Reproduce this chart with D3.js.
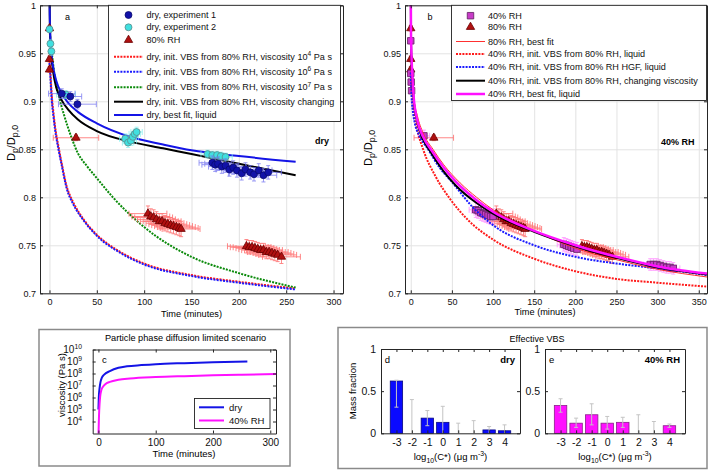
<!DOCTYPE html>
<html>
<head>
<meta charset="utf-8">
<script src="https://cdn.jsdelivr.net/npm/d3@7"></script>
<style>
html,body{margin:0;padding:0;background:#fff;}
svg{display:block;}
</style>
</head>
<body>
<svg id="chart" width="709" height="470"></svg>
<script>
// ================= DATA =================
const timeTicksA = [0, 50, 100, 150, 200, 250, 300];
const timeTicksB = [0, 50, 100, 150, 200, 250, 300, 350];
const ratioTicks = [0.7, 0.75, 0.8, 0.85, 0.9, 0.95, 1];

// measured points: [time (min), Dp/Dp0, time error, ratio error]
const dryExp1 = [
  [13, 0.908, 14, 0.005], [22, 0.905, 12, 0.005], [29.5, 0.897, 20, 0.005],
  [172, 0.836, 14, 0.007], [175, 0.834, 14, 0.007], [178, 0.835, 14, 0.007], [182, 0.832, 14, 0.007],
  [186, 0.833, 14, 0.007], [190, 0.829, 14, 0.007], [194, 0.831, 14, 0.007], [198, 0.828, 14, 0.007],
  [203, 0.825, 14, 0.007], [207, 0.829, 14, 0.007], [212, 0.826, 14, 0.007], [216, 0.824, 14, 0.007],
  [221, 0.828, 14, 0.007], [226, 0.823, 14, 0.007], [231, 0.826, 14, 0.007]
];
const dryExp2 = [
  [0, 0.975, 0, 0.003], [1, 0.960, 1, 0.004], [2, 0.952, 1, 0.004], [17.5, 0.907, 10, 0.004],
  [80, 0.861, 6, 0.005], [83, 0.857, 6, 0.005], [86, 0.859, 6, 0.005], [88, 0.863, 6, 0.005],
  [90, 0.866, 6, 0.005], [92, 0.868, 6, 0.005],
  [167, 0.845, 7, 0.004], [172, 0.844, 7, 0.004], [177, 0.844, 7, 0.004], [181, 0.843, 7, 0.004], [186, 0.842, 7, 0.004]
];
const rh80Points = [
  [0, 0.976, 0, 0.003], [0, 0.944, 0, 0.003], [0, 0.933, 0, 0.003], [28, 0.862, 24, 0.003],
  [104, 0.783, 20, 0.008], [107, 0.780, 20, 0.008], [110, 0.779, 20, 0.008], [113, 0.777, 20, 0.008],
  [116, 0.775, 20, 0.008], [119, 0.775, 20, 0.008], [122, 0.773, 20, 0.008], [125, 0.772, 20, 0.008],
  [128, 0.771, 20, 0.008], [131, 0.770, 20, 0.008], [134, 0.769, 20, 0.008], [137, 0.768, 20, 0.008],
  [139, 0.767, 20, 0.008],
  [208, 0.749, 20, 0.007], [211, 0.748, 20, 0.007], [214, 0.748, 20, 0.007], [217, 0.747, 20, 0.007],
  [220, 0.746, 20, 0.007], [223, 0.745, 20, 0.007], [226, 0.745, 20, 0.007], [229, 0.743, 20, 0.007],
  [232, 0.743, 20, 0.007], [235, 0.742, 20, 0.007], [238, 0.741, 20, 0.007], [241, 0.740, 20, 0.007],
  [245, 0.738, 20, 0.007]
];
const rh40Points = [
  [0, 0.963, 0, 0.003], [0, 0.929, 0, 0.003], [0.5, 0.920, 0, 0.003], [1, 0.911, 0, 0.003],
  [16, 0.864, 7, 0.006],
  [79, 0.787, 8, 0.008], [82, 0.786, 8, 0.008], [85, 0.784, 8, 0.008], [88, 0.783, 8, 0.008],
  [91, 0.782, 8, 0.008], [94, 0.781, 8, 0.008], [97, 0.780, 8, 0.008], [100, 0.780, 8, 0.008],
  [186, 0.751, 8, 0.007], [189, 0.750, 8, 0.007], [192, 0.749, 8, 0.007], [195, 0.748, 8, 0.007],
  [198, 0.747, 8, 0.007], [202, 0.746, 8, 0.007],
  [291, 0.730, 8, 0.006], [295, 0.730, 8, 0.006], [299, 0.730, 8, 0.006], [303, 0.729, 8, 0.006],
  [307, 0.728, 8, 0.006], [311, 0.727, 8, 0.006], [315, 0.727, 8, 0.006], [319, 0.726, 8, 0.006]
];

// model curves, panel a: [time, Dp/Dp0]
const dryVisc4 = [[0,0.945],[1,0.93],[2.5,0.905],[4,0.89],[6,0.873],[9.5,0.853],[13,0.835],[18,0.812],[25,0.795],[36,0.777],[50,0.761],[75,0.743],[100,0.731],[150,0.719],[200,0.712],[260,0.705]];
const dryVisc6 = [[0,0.94],[1,0.925],[2.5,0.90],[4,0.886],[6,0.870],[9.5,0.850],[13,0.833],[18,0.810],[25,0.793],[36,0.776],[50,0.760],[75,0.742],[100,0.730],[150,0.718],[200,0.711],[260,0.704]];
const dryVisc7 = [[0,0.975],[2,0.955],[5,0.93],[10,0.905],[15,0.887],[23,0.863],[30,0.846],[40,0.832],[50,0.82],[67,0.80],[100,0.769],[150,0.738],[200,0.721],[260,0.706]];
const dryViscChanging = [[0,1.02],[0.3,0.99],[1,0.962],[2,0.947],[4,0.93],[7,0.915],[13,0.901],[20,0.891],[30,0.881],[50,0.869],[85,0.858],[120,0.851],[150,0.845],[200,0.835],[260,0.823]];
const dryBestFit = [[0,1.02],[0.3,0.99],[1,0.965],[2,0.95],[4,0.935],[7,0.922],[13,0.908],[20,0.898],[30,0.889],[50,0.877],[85,0.863],[120,0.855],[150,0.849],[200,0.843],[260,0.837]];

// model curves, panel b
const rh80BestFit = [[0,1.02],[0.5,0.96],[1.5,0.93],[3.5,0.905],[8,0.885],[15,0.867],[27,0.85],[40,0.834],[60,0.815],[80,0.80],[100,0.787],[150,0.765],[200,0.747],[250,0.735],[300,0.725],[360,0.717]];
const rh40Liquid = [[0,0.93],[2,0.90],[7.5,0.872],[15,0.85],[30,0.822],[48,0.798],[70,0.776],[100,0.756],[150,0.736],[200,0.723],[250,0.715],[300,0.711],[360,0.707]];
const rh40HGF = [[0,0.93],[1,0.905],[2.5,0.89],[5,0.877],[10,0.865],[21,0.85],[35,0.831],[50,0.816],[75,0.79],[100,0.771],[150,0.75],[200,0.738],[250,0.731],[300,0.726],[360,0.719]];
const rh40Changing = [[0,1.02],[0.3,0.965],[1,0.94],[2,0.92],[3.5,0.902],[8,0.878],[15,0.86],[22,0.85],[40,0.827],[55,0.812],[80,0.794],[100,0.783],[150,0.764],[200,0.749],[250,0.737],[300,0.727],[360,0.7195]];
const rh40BestFit = [[0,1.02],[0.3,0.97],[1,0.945],[2,0.925],[3.5,0.905],[8,0.88],[15,0.863],[26,0.848],[40,0.831],[55,0.816],[80,0.797],[100,0.785],[150,0.765],[200,0.75],[250,0.738],[300,0.728],[360,0.7205]];

// panel c: viscosity (Pa s) vs time
const viscTimeTicks = [0, 100, 200, 300];
const viscTicks = [1e4, 1e5, 1e6, 1e7, 1e8, 1e9, 1e10];
const viscExponents = ["4", "5", "6", "7", "8", "9", "10"];
const viscDry = [[0,1e5],[0.5,6e5],[1,2e6],[2,6e6],[3.5,1.8e7],[6,4.5e7],[10,8e7],[20,1.6e8],[35,3e8],[50,4e8],[75,5e8],[100,6e8],[150,7.3e8],[200,8.5e8],[260,9.8e8]];
const visc40 = [[0,5e2],[1,3e4],[2,3e5],[3,1.2e6],[5,4e6],[8,8e6],[12,1.3e7],[20,2e7],[35,3e7],[55,3.8e7],[100,5e7],[150,6e7],[200,7e7],[250,8e7],[310,9e7]];

// panels d, e: effective VBS
const logCstar = [-3, -2, -1, 0, 1, 2, 3, 4];
const massTicks = [0, 0.5, 1];
const fracDry = [0.62, 0, 0.18, 0.13, 0, 0, 0.04, 0.03];
const errLowDry = [0.31, 0, 0.09, 0, 0, 0, 0, 0];
const errHighDry = [0.63, 0.40, 0.27, 0.32, 0.12, 0.15, 0.08, 0.10];
const frac40 = [0.33, 0.12, 0.22, 0.12, 0.13, 0, 0, 0.09];
const errLow40 = [0.25, 0.07, 0.10, 0.05, 0.07, 0, 0, 0.07];
const errHigh40 = [0.41, 0.18, 0.35, 0.20, 0.19, 0.22, 0.14, 0.11];

// ================= DRAWING =================
const FONT = '"Liberation Sans", Arial, Helvetica, sans-serif';
const AX = "#262626";
const svg = d3.select("#chart").attr("font-family", FONT);

function styleAxis(sel, fs) {
  sel.attr("font-family", FONT).attr("font-size", fs);
  sel.select(".domain").attr("stroke", AX);
  sel.selectAll(".tick line").attr("stroke", AX);
  sel.selectAll(".tick text").attr("fill", "#111");
}
function drawGrid(g, x, y, xt, yt) {
  const [xa, xb] = x.range(), [yb, ya] = y.range();
  g.append("g").attr("transform", `translate(0,${yb})`)
    .call(d3.axisBottom(x).tickValues(xt).tickSize(-(yb - ya)).tickFormat(""))
    .call(s => { s.select(".domain").remove(); s.selectAll("line").attr("stroke", "#e3e3e3"); });
  g.append("g").attr("transform", `translate(${xa},0)`)
    .call(d3.axisLeft(y).tickValues(yt).tickSize(-(xb - xa)).tickFormat(""))
    .call(s => { s.select(".domain").remove(); s.selectAll("line").attr("stroke", "#e3e3e3"); });
}
function drawAxes(g, x, y, o) {
  const [xa, xb] = x.range(), [yb, ya] = y.range();
  const tl = o.tickLen || 3, fs = o.fs || 9;
  g.append("g").attr("transform", `translate(0,${yb})`)
    .call(d3.axisBottom(x).tickValues(o.xTicks).tickSizeInner(-tl).tickSizeOuter(0).tickPadding(o.xPad || 5).tickFormat(o.xFmt || (d => d)))
    .call(s => styleAxis(s, fs));
  g.append("g").attr("transform", `translate(0,${ya})`)
    .call(d3.axisTop(x).tickValues(o.xTicks).tickSizeInner(-tl).tickSizeOuter(0).tickFormat(""))
    .call(s => styleAxis(s, fs));
  g.append("g").attr("transform", `translate(${xa},0)`)
    .call(d3.axisLeft(y).tickValues(o.yTicks).tickSizeInner(-tl).tickSizeOuter(0).tickPadding(o.yPad || 4).tickFormat(o.yFmt || (d => d)))
    .call(s => styleAxis(s, fs));
  g.append("g").attr("transform", `translate(${xb},0)`)
    .call(d3.axisRight(y).tickValues(o.yTicks).tickSizeInner(-tl).tickSizeOuter(0).tickFormat(""))
    .call(s => styleAxis(s, fs));
}
let clipId = 0;
function makeClip(x, y) {
  const id = "clip" + (clipId++);
  const [xa, xb] = x.range(), [yb, ya] = y.range();
  svg.append("clipPath").attr("id", id).append("rect")
    .attr("x", xa).attr("y", ya).attr("width", xb - xa).attr("height", yb - ya);
  return id;
}
function drawCurve(g, x, y, data, st) {
  const line = d3.line().x(d => x(d[0])).y(d => y(d[1])).curve(d3.curveMonotoneX);
  g.append("path").datum(data).attr("d", line).attr("fill", "none")
    .attr("stroke", st.color).attr("stroke-width", st.width)
    .attr("stroke-dasharray", st.dash || null);
}
function drawPoints(g, x, y, pts, o) {
  const eb = g.append("g").attr("stroke", o.errColor).attr("stroke-width", 0.9).attr("fill", "none").attr("opacity", 0.8);
  pts.forEach(p => {
    const [t, v, xe, ye] = p, cx = x(t), cy = y(v);
    if (xe > 0) {
      eb.append("line").attr("x1", x(t - xe)).attr("x2", x(t + xe)).attr("y1", cy).attr("y2", cy);
      [t - xe, t + xe].forEach(e => eb.append("line").attr("x1", x(e)).attr("x2", x(e)).attr("y1", cy - 3).attr("y2", cy + 3));
    }
    if (ye > 0) {
      eb.append("line").attr("x1", cx).attr("x2", cx).attr("y1", y(v - ye)).attr("y2", y(v + ye));
      [v - ye, v + ye].forEach(e => eb.append("line").attr("x1", cx - 2).attr("x2", cx + 2).attr("y1", y(e)).attr("y2", y(e)));
    }
  });
  g.append("g").selectAll("path").data(pts).join("path")
    .attr("transform", p => `translate(${x(p[0])},${y(p[1])})`)
    .attr("d", d3.symbol().type(o.type).size(o.size))
    .attr("fill", o.fill).attr("stroke", o.stroke).attr("stroke-width", 0.8);
}
function richText(sel, parts, fs, subScale) {
  let shift = 0;
  const sc = subScale || 0.72;
  parts.forEach(p => {
    const t = sel.append("tspan").text(p.t);
    const target = p.sup ? -fs * 0.4 : (p.sub ? fs * 0.3 : 0);
    if (target !== shift) { t.attr("dy", target - shift); shift = target; }
    if (p.sup || p.sub) t.attr("font-size", fs * sc);
  });
}
function drawLegend(g, box, rows, lx0, lx1, tx, fs) {
  g.append("rect").attr("x", box[0]).attr("y", box[1]).attr("width", box[2] - box[0]).attr("height", box[3] - box[1])
    .attr("fill", "#fff").attr("stroke", "#222").attr("stroke-width", 0.9);
  rows.forEach(r => {
    if (r.line) g.append("line").attr("x1", lx0).attr("x2", lx1).attr("y1", r.y).attr("y2", r.y)
      .attr("stroke", r.line.color).attr("stroke-width", r.line.width).attr("stroke-dasharray", r.line.dash || null);
    if (r.marker) g.append("path").attr("transform", `translate(${(lx0 + lx1) / 2},${r.y})`)
      .attr("d", d3.symbol().type(r.marker.type).size(r.marker.size))
      .attr("fill", r.marker.fill).attr("stroke", r.marker.stroke).attr("stroke-width", 0.8);
    const t = g.append("text").attr("x", tx).attr("y", r.y + fs * 0.35).attr("font-size", fs).attr("fill", "#111");
    richText(t, r.parts, fs);
  });
}

// styles
const S = {
  red4: { color: "#ff1a1a", width: 2, dash: "2,1.2" },
  blue6: { color: "#1a1aff", width: 2, dash: "2,1.2" },
  green7: { color: "#0a8a0a", width: 2, dash: "2,1.2" },
  black: { color: "#000", width: 2 },
  blueFit: { color: "#1414e6", width: 2 },
  redThin: { color: "#ff3030", width: 1 },
  magFit: { color: "#ff10ff", width: 2.5 }
};
const M = {
  exp1: { type: d3.symbolCircle, size: 38, fill: "#1212a8", stroke: "#0a0a70", errColor: "#7070f0" },
  exp2: { type: d3.symbolCircle, size: 38, fill: "#40e0e0", stroke: "#5a8a8a", errColor: "#80f0f0" },
  rh80: { type: d3.symbolTriangle, size: 30, fill: "#b01010", stroke: "#6a0000", errColor: "#ff5a5a" },
  rh40: { type: d3.symbolSquare, size: 42, fill: "#c83cc8", stroke: "#602060", errColor: "#ff80ff" }
};

// ---------- Panel a ----------
{
  const x = d3.scaleLinear().domain([-10, 310]).range([40, 343]);
  const y = d3.scaleLinear().domain([0.7, 1]).range([293.3, 5.3]);
  const g = svg.append("g");
  drawGrid(g, x, y, timeTicksA, ratioTicks);
  const cp = makeClip(x, y);
  const d = g.append("g").attr("clip-path", `url(#${cp})`);
  drawCurve(d, x, y, dryVisc4, S.red4);
  drawCurve(d, x, y, dryVisc6, S.blue6);
  drawCurve(d, x, y, dryVisc7, S.green7);
  drawCurve(d, x, y, dryViscChanging, S.black);
  drawCurve(d, x, y, dryBestFit, S.blueFit);
  drawPoints(d, x, y, rh80Points, M.rh80);
  drawPoints(d, x, y, dryExp2, M.exp2);
  drawPoints(d, x, y, dryExp1, M.exp1);
  drawAxes(g, x, y, { xTicks: timeTicksA, yTicks: ratioTicks, xPad: 5, yPad: 4 });
  g.append("text").attr("x", 65).attr("y", 19.5).attr("font-size", 9).text("a");
  g.append("text").attr("x", 315).attr("y", 143.5).attr("font-size", 9).attr("font-weight", "bold").text("dry");
  drawLegend(g, [108.5, 5.3, 340.5, 121.5], [
    { y: 15, marker: M.exp1, parts: [{ t: "dry, experiment 1" }] },
    { y: 27.3, marker: M.exp2, parts: [{ t: "dry, experiment 2" }] },
    { y: 40, marker: M.rh80, parts: [{ t: "80% RH" }] },
    { y: 56.7, line: S.red4, parts: [{ t: "dry, init. VBS from 80% RH, viscosity 10" }, { t: "4", sup: true }, { t: " Pa s" }] },
    { y: 71.7, line: S.blue6, parts: [{ t: "dry, init. VBS from 80% RH, viscosity 10" }, { t: "6", sup: true }, { t: " Pa s" }] },
    { y: 87.3, line: S.green7, parts: [{ t: "dry, init. VBS from 80% RH, viscosity 10" }, { t: "7", sup: true }, { t: " Pa s" }] },
    { y: 101.7, line: S.black, parts: [{ t: "dry, init. VBS from 80% RH, viscosity changing" }] },
    { y: 115, line: S.blueFit, parts: [{ t: "dry, best fit, liquid" }] }
  ], 114, 143, 146.5, 9.1);
  g.append("text").attr("x", 191.5).attr("y", 316.5).attr("text-anchor", "middle").attr("font-size", 9.2).text("Time (minutes)");
  const yl = g.append("text").attr("transform", "translate(15,143) rotate(-90)").attr("text-anchor", "middle").attr("font-size", 11);
  richText(yl, [{ t: "D" }, { t: "p", sub: true }, { t: "/D" }, { t: "p,0", sub: true }], 11, 0.8);
}

// ---------- Panel b ----------
{
  const x = d3.scaleLinear().domain([-7, 360]).range([405, 707]);
  const y = d3.scaleLinear().domain([0.7, 1]).range([293.3, 5.3]);
  const g = svg.append("g");
  drawGrid(g, x, y, timeTicksB, ratioTicks);
  const cp = makeClip(x, y);
  const d = g.append("g").attr("clip-path", `url(#${cp})`);
  drawPoints(d, x, y, rh80Points, M.rh80);
  drawPoints(d, x, y, rh40Points, M.rh40);
  drawCurve(d, x, y, rh40Liquid, S.red4);
  drawCurve(d, x, y, rh40HGF, S.blue6);
  drawCurve(d, x, y, rh80BestFit, S.redThin);
  drawCurve(d, x, y, rh40Changing, S.black);
  drawCurve(d, x, y, rh40BestFit, S.magFit);
  drawAxes(g, x, y, { xTicks: timeTicksB, yTicks: ratioTicks, xPad: 5, yPad: 4 });
  g.append("text").attr("x", 427.5).attr("y", 19.5).attr("font-size", 9).text("b");
  g.append("text").attr("x", 661).attr("y", 144.5).attr("font-size", 9).attr("font-weight", "bold").text("40% RH");
  drawLegend(g, [451.5, 5.3, 706.5, 100.5], [
    { y: 15.7, marker: M.rh40, parts: [{ t: "40% RH" }] },
    { y: 27, marker: M.rh80, parts: [{ t: "80% RH" }] },
    { y: 41.5, line: S.redThin, parts: [{ t: "80% RH, best fit" }] },
    { y: 54, line: S.red4, parts: [{ t: "40% RH, init. VBS from 80% RH, liquid" }] },
    { y: 67, line: S.blue6, parts: [{ t: "40% RH, init. VBS from 80% RH HGF, liquid" }] },
    { y: 80.7, line: S.black, parts: [{ t: "40% RH, init. VBS from 80% RH, changing viscosity" }] },
    { y: 94, line: S.magFit, parts: [{ t: "40% RH, best fit, liquid" }] }
  ], 456, 485, 488, 9.1);
  g.append("text").attr("x", 545).attr("y", 315).attr("text-anchor", "middle").attr("font-size", 9.2).text("Time (minutes)");
  const yl = g.append("text").attr("transform", "translate(372,148) rotate(-90)").attr("text-anchor", "middle").attr("font-size", 11);
  richText(yl, [{ t: "D" }, { t: "p", sub: true }, { t: "/D" }, { t: "p,0", sub: true }], 11, 0.8);
}

// ---------- Panel c ----------
{
  svg.append("rect").attr("x", 39).attr("y", 329.5).attr("width", 251).attr("height", 136.5)
    .attr("fill", "none").attr("stroke", "#8a8a8a").attr("stroke-width", 1.5);
  const x = d3.scaleLinear().domain([-10, 310]).range([92.7, 276]);
  const y = d3.scaleLog().domain([1e3, 1e10]).range([433.5, 349.5]);
  const g = svg.append("g");
  const cp = makeClip(x, y);
  const d = g.append("g").attr("clip-path", `url(#${cp})`);
  const lineC = { dry: { color: "#1414e6", width: 2 }, rh40: { color: "#ff10ff", width: 2 } };
  drawCurve(d, x, y, viscDry, lineC.dry);
  drawCurve(d, x, y, visc40, lineC.rh40);
  drawAxes(g, x, y, { xTicks: viscTimeTicks, yTicks: viscTicks, xPad: 5, yPad: 4, yFmt: () => "", fs: 10 });
  // log tick labels as 10^n
  g.selectAll(".viscLab").data(viscTicks).join("text")
    .attr("class", "viscLab").attr("x", 82).attr("y", v => y(v) + 3.8)
    .attr("text-anchor", "end").attr("font-size", 10).attr("fill", "#111")
    .each(function (v, i) {
      const t = d3.select(this);
      t.append("tspan").text("10");
      t.append("tspan").attr("dy", -4.5).attr("font-size", 6.8).text(viscExponents[i]);
    });
  g.append("text").attr("x", 102).attr("y", 362.5).attr("font-size", 9.5).text("c");
  g.append("text").attr("x", 185.5).attr("y", 341).attr("text-anchor", "middle").attr("font-size", 9.2).text("Particle phase diffusion limited scenario");
  g.append("text").attr("x", 184).attr("y", 457).attr("text-anchor", "middle").attr("font-size", 9.5).text("Time (minutes)");
  g.append("text").attr("transform", "translate(65,385) rotate(-90)").attr("text-anchor", "middle").attr("font-size", 9.5).text("viscosity (Pa s)");
  drawLegend(g, [194.5, 398.5, 270, 428.5], [
    { y: 407.3, line: lineC.dry, parts: [{ t: "dry" }] },
    { y: 420.5, line: lineC.rh40, parts: [{ t: "40% RH" }] }
  ], 199, 224, 229, 9.5);
}

// ---------- Panels d, e ----------
{
  svg.append("rect").attr("x", 338).attr("y", 327.5).attr("width", 369).attr("height", 141)
    .attr("fill", "none").attr("stroke", "#8a8a8a").attr("stroke-width", 1.5);
  svg.append("text").attr("x", 537).attr("y", 342).attr("text-anchor", "middle").attr("font-size", 9).text("Effective VBS");
  const panels = [
    { xr: [381, 520], frac: fracDry, lo: errLowDry, hi: errHighDry, fill: "#0a0aff", stroke: "#0a0a80", tag: "d", note: "dry" },
    { xr: [545, 685], frac: frac40, lo: errLow40, hi: errHigh40, fill: "#ff10ff", stroke: "#8a208a", tag: "e", note: "40% RH" }
  ];
  panels.forEach((p, k) => {
    const x = d3.scaleLinear().domain([-4, 5]).range(p.xr);
    const y = d3.scaleLinear().domain([0, 1]).range([433.3, 349]);
    const g = svg.append("g");
    g.selectAll("rect.bar").data(logCstar).join("rect").attr("class", "bar")
      .attr("x", (c) => x(c - 0.4)).attr("width", x(0.8) - x(0))
      .attr("y", (c, i) => y(p.frac[i])).attr("height", (c, i) => y(0) - y(p.frac[i]))
      .attr("fill", p.fill).attr("stroke", p.stroke).attr("stroke-width", 0.8);
    const eb = g.append("g").attr("stroke", "#c4c4c4").attr("stroke-width", 1);
    logCstar.forEach((c, i) => {
      eb.append("line").attr("x1", x(c)).attr("x2", x(c)).attr("y1", y(p.lo[i])).attr("y2", y(p.hi[i]));
      eb.append("line").attr("x1", x(c) - 2).attr("x2", x(c) + 2).attr("y1", y(p.hi[i])).attr("y2", y(p.hi[i]));
      if (p.lo[i] > 0) eb.append("line").attr("x1", x(c) - 2).attr("x2", x(c) + 2).attr("y1", y(p.lo[i])).attr("y2", y(p.lo[i]));
    });
    drawAxes(g, x, y, { xTicks: logCstar, yTicks: massTicks, xPad: 5, yPad: 5, fs: 10.5 });
    g.append("text").attr("x", x(-3.75)).attr("y", 362.5).attr("font-size", 9.5).text(p.tag);
    g.append("text").attr("x", p.xr[1] - 5).attr("y", 362.5).attr("text-anchor", "end").attr("font-size", 9.5).attr("font-weight", "bold").text(p.note);
    const xl = g.append("text").attr("x", (p.xr[0] + p.xr[1]) / 2).attr("y", 460).attr("text-anchor", "middle").attr("font-size", 9.5);
    richText(xl, [{ t: "log" }, { t: "10", sub: true }, { t: "(C*) (μg m" }, { t: "-3", sup: true }, { t: ")" }], 9.5);
  });
  svg.append("text").attr("transform", "translate(356,391) rotate(-90)").attr("text-anchor", "middle").attr("font-size", 9.5).text("Mass fraction");
}
</script>
</body>
</html>
